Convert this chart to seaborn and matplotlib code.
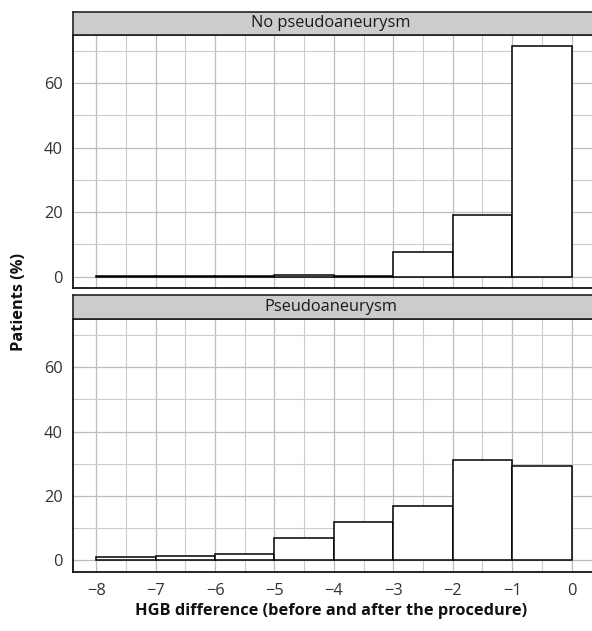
import matplotlib
matplotlib.use("Agg")
import matplotlib.pyplot as plt
import numpy as np
import pandas as pd
import seaborn as sns

# histogram bins (HGB difference) and share of patients per bin (%)
bin_edges = [-8, -7, -6, -5, -4, -3, -2, -1, 0]
bin_mids = [-7.5, -6.5, -5.5, -4.5, -3.5, -2.5, -1.5, -0.5]
no_pseudo_pct = [0.1, 0.1, 0.1, 0.5, 0.3, 7.6, 19.2, 71.4]
pseudo_pct = [0.9, 1.4, 1.8, 7.0, 11.9, 16.7, 31.3, 29.3]
panel_titles = ["No pseudoaneurysm", "Pseudoaneurysm"]
y_ticks = [0, 20, 40, 60]
x_ticks = [-8, -7, -6, -5, -4, -3, -2, -1, 0]

sns.set_style("white")
plt.rcParams['font.family'] = ['Open Sans', 'DejaVu Sans']

df = pd.DataFrame({
    'hgb': bin_mids * 2,
    'pct': no_pseudo_pct + pseudo_pct,
    'group': [panel_titles[0]] * 8 + [panel_titles[1]] * 8,
})

W, H = 592, 631
fig = plt.figure(figsize=(W / 100, H / 100), dpi=100)

# (panel top px, panel bottom px, strip top px)
layout = [(34.7, 288.3, 12.0), (319.0, 571.7, 295.5)]
left_px, right_px = 72.5, 595.3
ymax = max(max(no_pseudo_pct), max(pseudo_pct))
fs = 11.8

for i, (title, (top, bot, stop)) in enumerate(zip(panel_titles, layout)):
    ax = fig.add_axes([left_px / W, 1 - bot / H, (right_px - left_px) / W, (bot - top) / H])
    sub = df[df['group'] == title]
    sns.histplot(data=sub, x='hgb', weights='pct', bins=bin_edges, stat='count',
                 color='white', edgecolor='black', linewidth=1.1, alpha=1, ax=ax, zorder=3)
    ax.set_xticks(x_ticks)
    ax.set_xticks(np.arange(-7.5, 0.1, 1.0), minor=True)
    ax.set_yticks(y_ticks)
    ax.set_yticks([10, 30, 50, 70], minor=True)
    ax.set_xlim(-8.4, 0.4)
    ax.set_ylim(-0.05 * ymax, ymax * 1.05)
    ax.grid(True, which='major', color='#bdbdbd', linewidth=0.9, zorder=0)
    ax.grid(True, which='minor', color='#cccccc', linewidth=0.8, zorder=0)
    ax.set_axisbelow(True)
    for s in ax.spines.values():
        s.set_color('black')
        s.set_linewidth(1.2)
    ax.tick_params(axis='both', which='major', direction='out', length=4, width=1,
                   color='black', labelsize=fs, labelcolor='#333333', pad=3)
    ax.tick_params(axis='x', which='major', pad=4)
    ax.tick_params(axis='both', which='minor', length=0)
    ax.set_xticklabels([f"\u2212{abs(t)}" if t < 0 else str(t) for t in x_ticks])
    ax.set_xlabel('')
    ax.set_ylabel('')
    if i == 0:
        ax.tick_params(axis='x', labelbottom=False, length=0)

    # facet strip
    sax = fig.add_axes([left_px / W, 1 - top / H, (right_px - left_px) / W, (top - stop) / H])
    sax.set_facecolor('#cccccc')
    sax.set_xticks([])
    sax.set_yticks([])
    for s in sax.spines.values():
        s.set_color('#222222')
        s.set_linewidth(1.2)
    sax.text((331 - left_px) / (right_px - left_px), 0.5, title, ha='center', va='center',
             fontsize=fs, color='#1a1a1a', transform=sax.transAxes)

fig.text(19 / W, 1 - 302 / H, 'Patients (%)', rotation=90, ha='center', va='center',
         fontsize=fs, fontweight='bold', color='#111111')
fig.text(331 / W, 1 - 611 / H, 'HGB difference (before and after the procedure)',
         ha='center', va='center', fontsize=fs, fontweight='bold', color='#111111')

fig.savefig('out.png', dpi=100)
